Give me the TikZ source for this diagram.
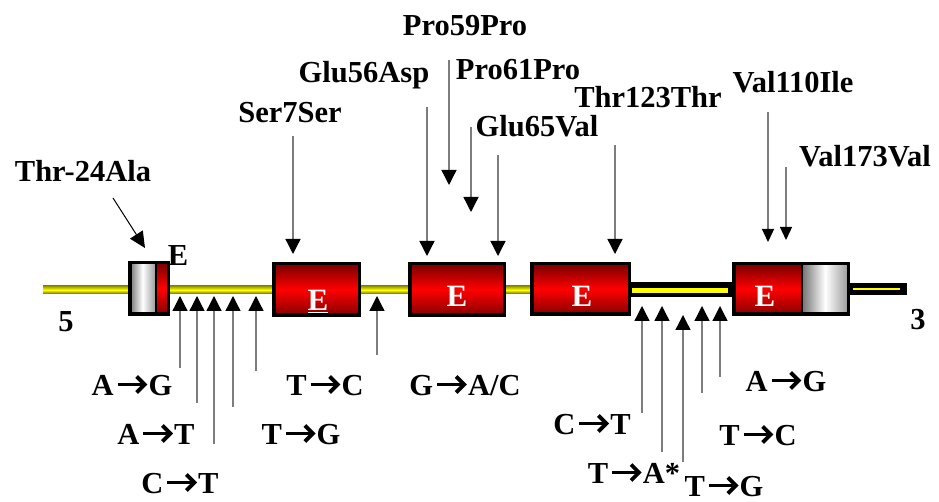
\documentclass[tikz,border=0pt]{standalone}
\usepackage{fontspec}
\setmainfont{Liberation Serif}
\usetikzlibrary{arrows.meta}

\definecolor{exred}{RGB}{255,0,0}
\definecolor{exdarktop}{RGB}{120,0,0}
\definecolor{exdarkbot}{RGB}{135,0,0}
\definecolor{ylw}{RGB}{255,255,0}
\definecolor{ylwtop}{RGB}{150,150,0}
\definecolor{ylwbot}{RGB}{105,105,0}
\definecolor{stemgray}{RGB}{125,125,125}

% heavy chevron arrow used inside the substitution labels
\newcommand{\mutarr}{\hspace{2pt}\tikz[baseline=0pt,x=1pt,y=1pt]{%
  \draw[line width=3.8pt,black] (0,10.5)--(26,10.5);
  \draw[line width=3.8pt,black,line join=miter,miter limit=10] (19,18.5)--(27,10.5)--(19,2.5);}\hspace{2pt}}

\tikzset{
  lbl/.style={font=\fontsize{30.5}{36}\selectfont\bfseries, anchor=base, inner sep=0pt},
  elbl/.style={font=\fontsize{31}{36}\selectfont\bfseries, anchor=base, inner sep=0pt, text=white},
  pointer/.style={draw=stemgray, line width=1.3pt, -{Triangle[width=15pt,length=15pt,color=black]}},
  smallpointer/.style={draw=stemgray, line width=1.3pt, -{Triangle[width=12pt,length=13pt,color=black]}},
  exonfill/.style={top color=exdarktop, bottom color=exdarkbot, middle color=exred},
  utrfill/.style={left color=black!55, right color=black!40, middle color=white},
  intron/.style={top color=ylwtop, bottom color=ylwbot, middle color=ylw},
  frame/.style={draw=black, line width=3.5pt},
}

\begin{document}
\begin{tikzpicture}[x=1pt,y=-1pt]
\useasboundingbox (0,0) rectangle (939,502);

% ---------- gene backbone ----------
\shade[intron] (43,286) rectangle (530,294);
% dark intron between exons 4 and 5
\fill[black] (629,282) rectangle (734,297);
\fill[ylw] (632,288) rectangle (728,293);
% 3' tail
\fill[black] (848,283) rectangle (907,295);
\fill[ylw] (853,288.3) rectangle (900,289.9);

% ---------- exon 1 with 5' UTR ----------
\shade[utrfill] (129.75,262.75) rectangle (155.5,314.25);
\shade[exonfill] (155.5,262.75) rectangle (168.25,314.25);
\draw[frame] (129.75,262.75) rectangle (168.25,314.25);
\draw[line width=2pt] (155.5,262.75) -- (155.5,314.25);

% ---------- exons 2-4 ----------
\shade[exonfill] (273.75,263.75) rectangle (359.25,315.25);
\draw[frame] (273.75,263.75) rectangle (359.25,315.25);
\shade[exonfill] (409.75,263.75) rectangle (504.25,315.25);
\draw[frame] (409.75,263.75) rectangle (504.25,315.25);
\shade[exonfill] (531.75,263.75) rectangle (629.25,314.25);
\draw[frame] (531.75,263.75) rectangle (629.25,314.25);

% ---------- exon 5 with 3' UTR ----------
\shade[exonfill] (733.75,263.75) rectangle (802,314.25);
\shade[utrfill] (802,263.75) rectangle (848.25,314.25);
\draw[frame] (733.75,263.75) rectangle (848.25,314.25);
\draw[line width=2.5pt] (802,263.75) -- (802,314.25);

% ---------- exon letters ----------
\node[lbl] (e1) at (178,266) {E};
\node[elbl] (e2) at (318,311) {\underline{E}};
\node[elbl] (e3) at (457,307) {E};
\node[elbl] (e4) at (582,307) {E};
\node[elbl] (e5) at (765,307) {E};

% ---------- strand ends ----------
\node[lbl] (five) at (66,331) {5};
\node[lbl] (three) at (918,330) {3};

% ---------- coding changes (above) ----------
\node[lbl] (thr24) at (83,182) {Thr-24Ala};
\node[lbl] (ser7) at (290,123) {Ser7Ser};
\node[lbl] (glu56) at (364,83) {Glu56Asp};
\node[lbl] (pro59) at (465,36) {Pro59Pro};
\node[lbl] (pro61) at (518,80) {Pro61Pro};
\node[lbl] (glu65) at (537,137) {Glu65Val};
\node[lbl] (thr123) at (648,108) {Thr123Thr};
\node[lbl] (val110) at (793,93) {Val110Ile};
\node[lbl] (val173) at (865,167) {Val173Val};

\coordinate (thr24s) at (113,198);  \coordinate (thr24t) at (145,248);
\coordinate (ser7s) at (293,136);   \coordinate (ser7t) at (293,254);
\coordinate (glu56s) at (427,107);  \coordinate (glu56t) at (427,256);
\coordinate (pro59s) at (449,60);   \coordinate (pro59t) at (449,185);
\coordinate (pro61s) at (471,127);  \coordinate (pro61t) at (471,212);
\coordinate (glu65s) at (498,155);  \coordinate (glu65t) at (498,256);
\coordinate (thr123s) at (615,145); \coordinate (thr123t) at (615,254);
\coordinate (val110s) at (768,112); \coordinate (val110t) at (768,242);
\coordinate (val173s) at (786,167); \coordinate (val173t) at (786,240);

\draw[draw=black, line width=1pt, -{Triangle[width=15pt,length=16pt,color=black]}] (thr24s) -- (thr24t);
\draw[pointer] (ser7s) -- (ser7t);
\draw[pointer] (glu56s) -- (glu56t);
\draw[pointer] (pro59s) -- (pro59t);
\draw[pointer] (pro61s) -- (pro61t);
\draw[pointer] (glu65s) -- (glu65t);
\draw[pointer] (thr123s) -- (thr123t);
\draw[smallpointer] (val110s) -- (val110t);
\draw[smallpointer] (val173s) -- (val173t);

% ---------- nucleotide changes (below) ----------
\node[lbl] (m1) at (132,395) {A\mutarr G};
\node[lbl] (m2) at (156,444) {A\mutarr T};
\node[lbl] (m3) at (180,493) {C\mutarr T};
\node[lbl] (m4) at (301,444) {T\mutarr G};
\node[lbl] (m5) at (325,395) {T\mutarr C};
\node[lbl] (m6) at (465,395) {G\mutarr A/C};
\node[lbl] (m7) at (592,434) {C\mutarr T};
\node[lbl] (m8) at (634,483) {T\mutarr A*};
\node[lbl] (m9) at (724,496) {T\mutarr G};
\node[lbl] (m10) at (758,445) {T\mutarr C};
\node[lbl] (m11) at (786,391) {A\mutarr G};

\coordinate (u1s) at (180,368);  \coordinate (u1t) at (180,296);
\coordinate (u2s) at (197,403);  \coordinate (u2t) at (197,296);
\coordinate (u3s) at (214,444);  \coordinate (u3t) at (214,296);
\coordinate (u4s) at (233,407);  \coordinate (u4t) at (233,296);
\coordinate (u5s) at (256,371);  \coordinate (u5t) at (256,296);
\coordinate (u6s) at (377,355);  \coordinate (u6t) at (377,296);
\coordinate (u7s) at (642,413);  \coordinate (u7t) at (642,306);
\coordinate (u8s) at (662,452);  \coordinate (u8t) at (662,306);
\coordinate (u9s) at (683,462);  \coordinate (u9t) at (683,315);
\coordinate (u10s) at (702,393); \coordinate (u10t) at (702,306);
\coordinate (u11s) at (720,377); \coordinate (u11t) at (720,306);

\foreach \k in {1,...,11} {
  \draw[pointer] (u\k s) -- (u\k t);
}
\end{tikzpicture}
\end{document}
